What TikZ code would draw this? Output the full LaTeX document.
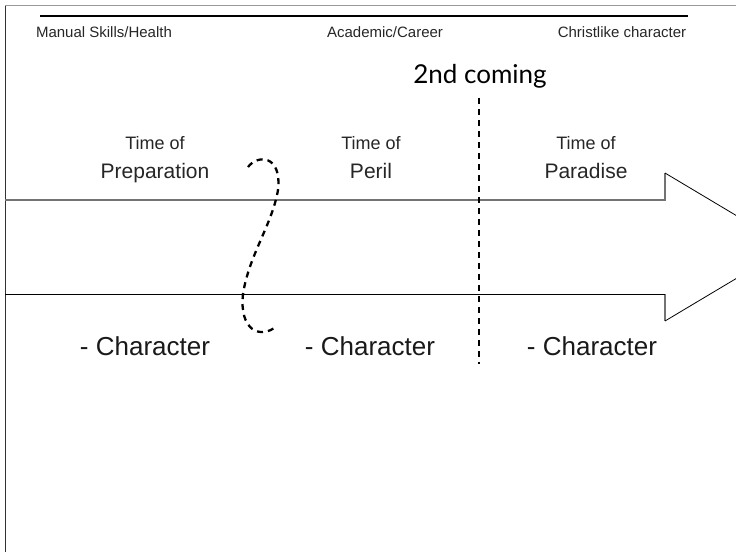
\documentclass[tikz,border=0pt]{standalone}
\usepackage{fontspec}
\setmainfont{Liberation Sans}
\newfontfamily\comingfont{Lato}
\usetikzlibrary{positioning}

\begin{document}
\begin{tikzpicture}[x=1pt, y=-1pt, inner sep=0pt, semithick]
            \tikzstyle{toplabel}=[text=black!85, anchor=base, font=\fontsize{15}{17}\selectfont]
            \tikzstyle{timeof}=[text=black!85, font=\fontsize{18}{20}\selectfont]
            \tikzstyle{period}=[text=black!85, anchor=base, font=\fontsize{21}{24}\selectfont]
            \tikzstyle{charlabel}=[text=black!90, anchor=base, font=\fontsize{26}{30}\selectfont]
            \tikzstyle{coming}=[dash pattern=on 6pt off 5pt, line width=2.3pt]

            \useasboundingbox (0,0) rectangle (736,552);

            % frame
            \draw[black!80, line width=1pt] (5,5) -- (5,552);
            \draw[black!40, line width=0.6pt] (5,5) -- (736,5);
            \draw[line width=2.4pt] (40,16) -- (688,16);

            % headings
            \node[toplabel] (skills) at (104,37) {Manual Skills/Health};
            \node[toplabel] (career) at (385,37) {Academic/Career};
            \node[toplabel] (christ) at (622,37) {Christlike character};

            % the big arrow
            \begin{scope}
                \clip (0,0) rectangle (736,552);
                \draw[black!55, line width=1.5pt] (5,200) -- (665,200) -- (665,173);
                \draw[black!55, line width=1.5pt] (665,294) -- (665,321);
                \draw[line width=0.8pt] (665,173) -- (789,247) -- (665,321);
                \draw[line width=0.8pt] (5,294) -- (665,294);
            \end{scope}

            % periods
            \node[period] (prep) at (155,178) {Preparation};
            \node[timeof] (preptime) [above=13pt of prep] {Time of};
            \node[period] (peril) at (371,178) {Peril};
            \node[timeof] (periltime) [above=13pt of peril] {Time of};
            \node[period] (para) at (586,178) {Paradise};
            \node[timeof] (paratime) [above=13pt of para] {Time of};

            \node[charlabel] (char1) at (145,355) {- Character};
            \node[charlabel] (char2) at (370,355) {- Character};
            \node[charlabel] (char3) at (592,355) {- Character};

            % second coming
            \node[anchor=base, font=\comingfont\fontsize{26}{30}\selectfont] (second) at (480,83) {2nd coming};
            \coordinate (ctop) at (479,98);
            \coordinate (cbot) at (479,364);
            \draw[coming] (ctop) -- (cbot);

            % the wavy divide
            \coordinate (wstart) at (248,167);
            \coordinate (wmid) at (278,190);
            \coordinate (wlow) at (243,294);
            \coordinate (wend) at (277,326);
            \draw[coming] (wstart) .. controls (258,154) and (282,155) .. (wmid)
                .. controls (272,225) and (249,255) .. (wlow)
                .. controls (239,330) and (260,340) .. (wend);
        \end{tikzpicture}
\end{document}
